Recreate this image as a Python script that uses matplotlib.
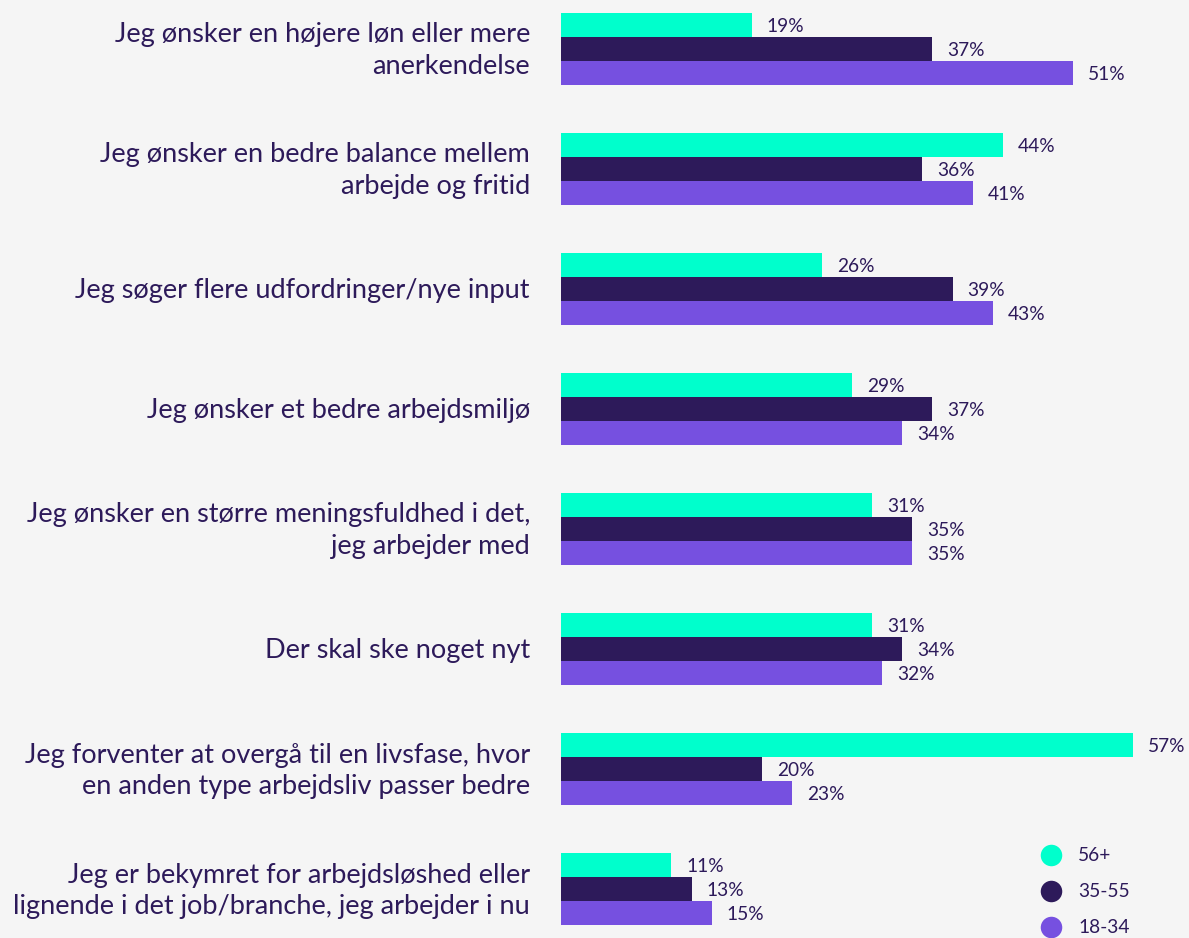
import numpy as np
import matplotlib
matplotlib.use("Agg")
import matplotlib.pyplot as plt

categories = [
    "Jeg ønsker en højere løn eller mere\nanerkendelse",
    "Jeg ønsker en bedre balance mellem\narbejde og fritid",
    "Jeg søger flere udfordringer/nye input",
    "Jeg ønsker et bedre arbejdsmiljø",
    "Jeg ønsker en større meningsfuldhed i det,\njeg arbejder med",
    "Der skal ske noget nyt",
    "Jeg forventer at overgå til en livsfase, hvor\nen anden type arbejdsliv passer bedre",
    "Jeg er bekymret for arbejdsløshed eller\nlignende i det job/branche, jeg arbejder i nu",
]
series_names = ["56+", "35-55", "18-34"]
vals_56 = [19, 44, 26, 29, 31, 31, 57, 11]
vals_35 = [37, 36, 39, 37, 35, 34, 20, 13]
vals_18 = [51, 41, 43, 34, 35, 32, 23, 15]

colors = ["#00FFCC", "#2D1A5A", "#7650E0"]
text_color = "#2D1A5A"
bg = "#F5F5F5"

plt.rcParams['font.family'] = ['Lato', 'DejaVu Sans']

W, H = 1189, 938
fig = plt.figure(figsize=(W / 100, H / 100), dpi=100, facecolor=bg)
ax_left = 561 / W
ax = fig.add_axes([ax_left, 0, 1 - ax_left, 1])
ax.set_facecolor(bg)
px_per_pct = 10.04
ax.set_xlim(0, (W - 561) / px_per_pct)
ax.set_ylim(7 + 49 / 120, -49 / 120)
for s in ax.spines.values():
    s.set_visible(False)
ax.set_xticks([])
ax.set_yticks([])

y = np.arange(len(categories))
h = 0.2
for k, (vals, c) in enumerate(zip([vals_56, vals_35, vals_18], colors)):
    pos = y + (k - 1) * h
    ax.barh(pos, vals, height=h, color=c, linewidth=0)
    for p, v in zip(pos, vals):
        ax.text(v + 1.5, p + 0.01, f"{v}%", va="center", ha="left",
                fontsize=13.8, color=text_color)

for yi, lab in zip(y, categories):
    ax.text(-3.1, yi + 0.015, lab, ha="right", va="center", fontsize=19.5,
            color=text_color, linespacing=1.33, clip_on=False)

# legend
leg_y = [855, 891, 927]
for name, c, ly in zip(series_names, colors, leg_y):
    fig.text(1078 / W, 1 - ly / H, name, ha="left", va="center",
             fontsize=13.8, color=text_color)
    ax.scatter([1051 / W], [1 - ly / H], s=240, color=c,
               transform=fig.transFigure, clip_on=False, linewidths=0)

fig.savefig("out.png", dpi=100, facecolor=bg)
